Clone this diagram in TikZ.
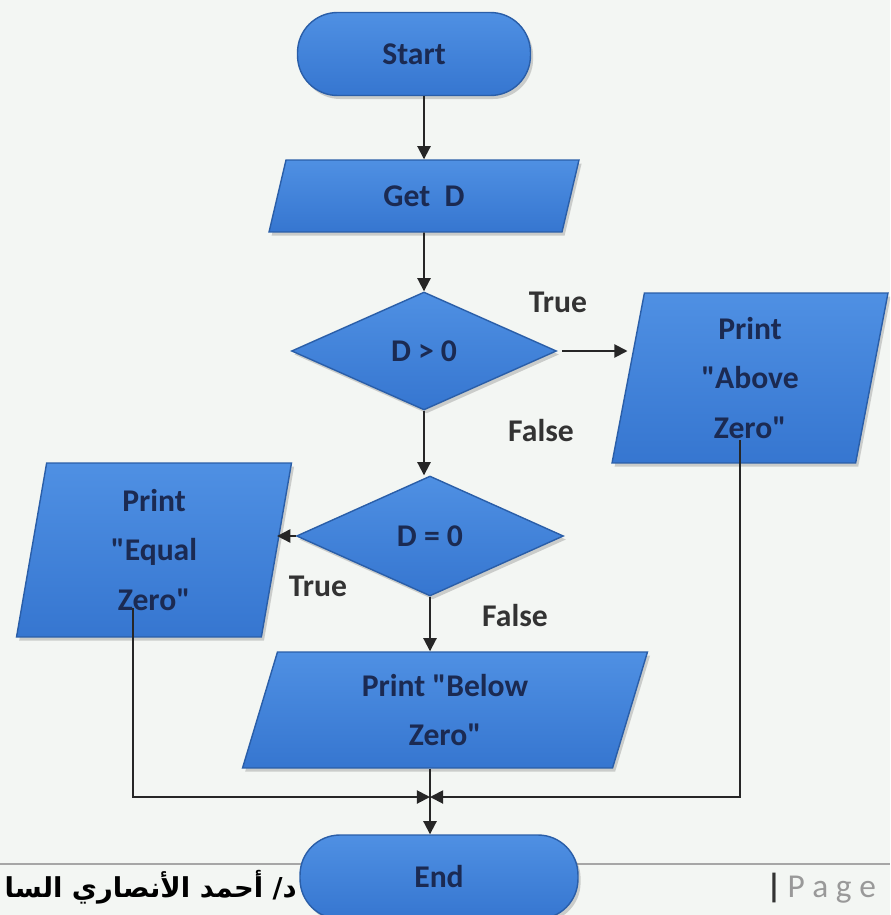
\documentclass[tikz,border=0pt]{standalone}
\usepackage{fontspec}
\setmainfont{Carlito}[Ligatures=TeXOff]
\newfontfamily\arabicfont[Script=Arabic]{DejaVu Sans}
\TeXXeTstate=1
\usetikzlibrary{shapes.geometric,arrows.meta,calc,shadows}
\definecolor{bgcol}{HTML}{F3F6F3}
\definecolor{boxblue}{HTML}{3676D0}
\definecolor{boxlight}{HTML}{4F90E3}
\definecolor{boxedge}{HTML}{2A5EA8}
\definecolor{boxtext}{HTML}{1B2A52}
\definecolor{linecol}{HTML}{262626}
\begin{document}
\begin{tikzpicture}[x=0.02cm,y=-0.02cm,
  box/.style={draw=boxedge,line width=0.8pt,top color=boxlight,bottom color=boxblue,
    text=boxtext,font=\fontsize{18}{28}\selectfont\bfseries,align=center,inner sep=0pt,
    drop shadow={shadow xshift=1.5pt,shadow yshift=-2pt,opacity=0.35}},
  term/.style={box,rectangle,rounded corners=0.8cm},
  io/.style={box,trapezium,trapezium stretches body},
  dec/.style={box,diamond},
  arr/.style={draw=linecol,line width=1.1pt,-{Triangle[length=7.5pt,width=7.5pt]}},
  lbl/.style={text=black!80,font=\fontsize{18}{20}\selectfont\bfseries}]
      \useasboundingbox (0,0) rectangle (890,915);
      \clip (0,0) rectangle (890,915);
      \fill[bgcol] (0,0) rectangle (890,915);
      % footer
      \draw[black!35,line width=1.2pt] (0,864) -- (890,864);
      \node[anchor=east,text=black,font=\arabicfont\bfseries\fontsize{15.6}{20}\selectfont] (author) at (303,887) {\beginR د/ أحمد الأنصاري السا\endR};
      \node[anchor=west,font=\fontsize{19}{20}\selectfont] (page) at (760,888) {\textcolor{black!80}{\textbf{|}}\,\textcolor{black!40}{P a g e}};
      % boxes
      \node[term,minimum width=4.66cm,minimum height=1.66cm] (start) at (414,54) {Start};
      \node[io,trapezium left angle=51,trapezium right angle=129,minimum width=6.2cm,minimum height=1.44cm] (getd) at (424,196) {Get~~D};
      \node[dec,minimum width=5.3cm,minimum height=2.36cm] (dpos) at (424,351) {D > 0};
      \node[io,trapezium left angle=75,trapezium right angle=105,minimum width=5.52cm,minimum height=3.4cm] (above) at (750,378) {Print\\"Above\\Zero"};
      \node[dec,minimum width=5.34cm,minimum height=2.4cm] (dzero) at (430,536) {D = 0};
      \node[io,trapezium left angle=76,trapezium right angle=104,minimum width=5.5cm,minimum height=3.48cm] (equal) at (154,550) {Print\\"Equal\\Zero"};
      \node[io,trapezium left angle=64,trapezium right angle=116,minimum width=8.1cm,minimum height=2.32cm] (below) at (445,710) {Print "Below\\Zero"};
      \node[term,minimum width=5.56cm,minimum height=1.68cm] (end) at (439,877) {End};
      \coordinate (join) at (430,797);
      % labels
      \node[lbl] (t1) at (558,302) {True};
      \node[lbl] (f1) at (541,431) {False};
      \node[lbl] (t2) at (318,586) {True};
      \node[lbl] (f2) at (515,616) {False};
      % arrows
      \draw[arr] (getd.north |- start.south) -- (getd.north);
      \draw[arr] (getd.south) -- (dpos.north);
      \draw[arr] ([xshift=3pt]dpos.east) -- (dpos.east -| above.west);
      \draw[arr] (dpos.south) -- (dpos.south |- dzero.north);
      \draw[arr] (dzero.west) -- (dzero.west -| equal.east);
      \draw[arr] (dzero.south) -- (dzero.south |- below.north);
      \draw[arr] (dzero.south |- below.south) -- (dzero.south |- end.north);
      \draw[arr] ($(equal)+(-21,58)$) |- (join);
      \draw[arr] ($(above)+(-10,62)$) |- (join);
    \end{tikzpicture}
\end{document}
